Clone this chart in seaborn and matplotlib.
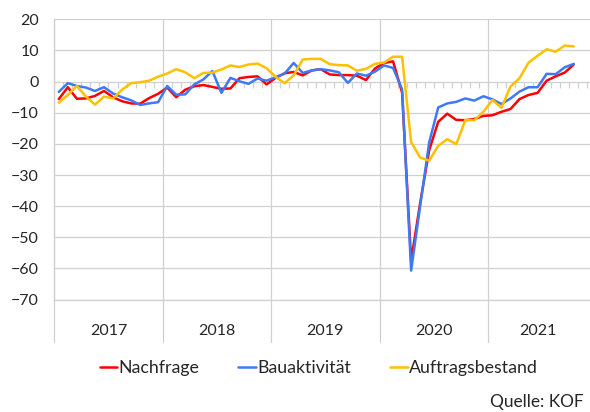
import numpy as np
import pandas as pd
import seaborn as sns
import matplotlib.pyplot as plt
import matplotlib.transforms as mtransforms

# monthly values Jan 2017 - Oct 2021
nachfrage = [-5.6, -1.8, -5.5, -5.4, -4.6, -3.0, -5.0, -6.3, -7.0, -7.1, -5.3, -3.9,
             -1.9, -5.0, -2.6, -1.5, -1.1, -1.7, -2.3, -2.2, 1.1, 1.5, 1.7, -0.9,
             1.2, 2.7, 3.1, 2.0, 3.6, 4.0, 2.3, 2.1, 2.1, 1.9, 0.5, 4.2,
             6.0, 6.5, -3.5, -57.5, -39.0, -22.0, -12.9, -10.3, -12.3, -12.4, -12.0, -11.0,
             -10.8, -9.7, -8.8, -5.6, -4.3, -3.6, 0.3, 1.7, 2.9, 5.5]
bauaktivitaet = [-3.3, -0.5, -1.4, -1.9, -3.0, -1.8, -3.8, -5.0, -6.0, -7.5, -7.0, -6.6,
                 -1.4, -4.2, -4.1, -0.9, 0.7, 3.4, -3.6, 1.2, 0.1, -0.7, 1.0, 0.3,
                 1.4, 2.6, 6.0, 2.8, 3.6, 4.0, 3.6, 3.0, -0.4, 2.6, 1.9, 3.2,
                 5.2, 4.4, -2.5, -60.7, -40.0, -19.5, -8.3, -7.0, -6.5, -5.4, -6.1, -4.7,
                 -5.7, -7.2, -5.4, -3.2, -1.8, -1.8, 2.5, 2.4, 4.6, 5.7]
auftragsbestand = [-6.7, -4.3, -1.4, -4.8, -7.4, -4.8, -5.4, -2.6, -0.5, -0.2, 0.3, 1.6,
                   2.6, 4.0, 3.0, 1.1, 2.8, 2.9, 3.9, 5.2, 4.7, 5.5, 5.8, 4.3,
                   1.5, -0.5, 2.0, 7.1, 7.3, 7.3, 5.6, 5.3, 5.2, 3.5, 4.1, 5.7,
                   6.1, 8.0, 8.0, -19.4, -24.4, -25.4, -20.6, -18.5, -20.1, -12.3, -12.4, -9.7,
                   -5.9, -8.4, -1.6, 1.1, 6.1, 8.3, 10.4, 9.6, 11.6, 11.3]
jahre = ["2017", "2018", "2019", "2020", "2021"]
monate_pro_jahr = [12, 12, 12, 12, 11]

n = len(nachfrage)
df = pd.DataFrame({
    "monat": list(range(n)) * 3,
    "wert": nachfrage + bauaktivitaet + auftragsbestand,
    "reihe": ["Nachfrage"] * n + ["Bauaktivität"] * n + ["Auftragsbestand"] * n,
})

sns.set_style("white")
plt.rcParams["font.family"] = ["Lato", "DejaVu Sans"]
grau = "#d0d0d0"
textfarbe = "#262626"

fig = plt.figure(figsize=(5.9, 4.12), dpi=100)
ax = fig.add_axes([0.092, 0.273, 0.908, 0.68])

farben = {"Nachfrage": "#ff0000", "Bauaktivität": "#3d7af5", "Auftragsbestand": "#ffc000"}
sns.lineplot(data=df, x="monat", y="wert", hue="reihe", palette=farben, linewidth=1.8, ax=ax)

ax.set_ylim(-70, 20)
ax.set_xlim(-0.5, 58.8)
ax.set_yticks(range(-70, 21, 10))
ax.yaxis.grid(True, color=grau, lw=0.9)
ax.set_axisbelow(True)
ax.tick_params(axis="y", length=0, pad=11, labelsize=11.5, colors=textfarbe)

# month ticks at the bottom edge
grenzen = np.arange(-0.5, 59.5, 1)
ax.set_xticks(grenzen)
ax.set_xticklabels([])
ax.tick_params(axis="x", length=8.8, width=0.9, color=grau, direction="out")
ax.set_xlabel("")
ax.set_ylabel("")
for s in ["top", "right"]:
    ax.spines[s].set_visible(False)
for s in ["left", "bottom"]:
    ax.spines[s].set_color(grau)
    ax.spines[s].set_linewidth(0.9)

# ticks on the zero line
ax.vlines(grenzen, -1.9, 0, color=grau, lw=0.9, zorder=1)

# year dividers and labels
trans = mtransforms.blended_transform_factory(ax.transData, ax.transAxes)
start = -0.5
for jahr, m in zip(jahre, monate_pro_jahr):
    ax.plot([start, start], [-0.152, 1], color=grau, lw=0.9, transform=trans,
            clip_on=False, zorder=1)
    ax.text(start + m / 2, -0.112, jahr, transform=trans, ha="center", va="center",
            fontsize=11.5, color=textfarbe)
    start += m

handles, labels = ax.get_legend_handles_labels()
ax.get_legend().remove()
fig.legend(handles, labels, loc="center", bbox_to_anchor=(0.54, 0.107), ncol=3,
           frameon=False, fontsize=12.8, handlelength=1.0, handletextpad=0.05,
           columnspacing=2.2, labelcolor=textfarbe)

fig.text(0.99, 0.025, "Quelle: KOF", ha="right", va="center", fontsize=12.4, color=textfarbe)

fig.savefig("out.png", dpi=100)
